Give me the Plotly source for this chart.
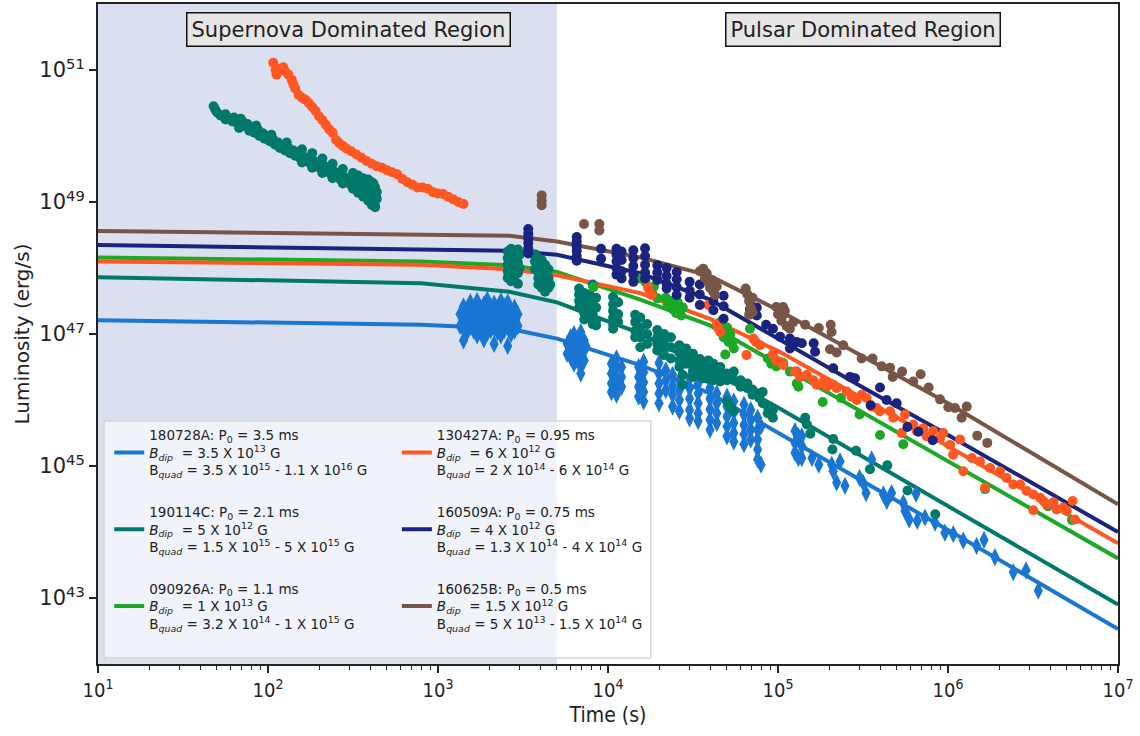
import numpy as np
import plotly.graph_objects as go

# ---------------- model curves (log10 t [s], log10 L [erg/s]) ----------------
model_logt = [1.0, 2.9, 3.42, 3.7, 4.19, 4.6, 5.01, 5.5, 6.0, 7.0]
model_logL_180728A = [47.21, 47.14, 47.08, 46.93, 46.53, 46.10, 45.49, 44.77, 44.03, 42.53]
model_logL_190114C = [47.86, 47.77, 47.64, 47.48, 47.01, 46.45, 45.87, 45.14, 44.40, 42.90]
model_logL_090926A = [48.16, 48.10, 48.04, 47.94, 47.52, 47.13, 46.53, 45.81, 45.08, 43.60]
model_logL_130427A = [48.10, 48.05, 47.98, 47.89, 47.62, 47.23, 46.73, 46.02, 45.30, 43.83]
model_logL_160509A = [48.35, 48.29, 48.26, 48.20, 47.92, 47.52, 46.91, 46.19, 45.47, 44.00]
model_logL_160625B = [48.56, 48.50, 48.49, 48.40, 48.16, 47.88, 47.35, 46.66, 45.95, 44.42]

# ---------------- observed data: rows of [log10 t, log10 L, log10 L, ...] ----------------
obs_180728A = [
    [3.13, 47.30, 47.12], [3.15, 47.42, 47.25, 47.08, 46.90], [3.17, 47.35, 47.18, 47.02],
    [3.19, 47.48, 47.30, 47.12], [3.21, 47.40, 47.22, 47.05], [3.23, 47.50, 47.32, 47.15, 46.98],
    [3.25, 47.38, 47.20, 47.04], [3.27, 47.45, 47.28, 47.10, 46.92], [3.29, 47.52, 47.35, 47.18, 47.02],
    [3.31, 47.40, 47.22, 47.06], [3.33, 47.46, 47.28, 47.10, 46.85], [3.35, 47.38, 47.20, 47.03],
    [3.37, 47.50, 47.32, 47.14, 46.98], [3.39, 47.42, 47.24, 47.06], [3.41, 47.48, 47.30, 47.12, 46.82],
    [3.43, 47.36, 47.18, 47.00], [3.45, 47.40, 47.22, 47.05], [3.47, 47.30, 47.12],
    [3.76, 46.85, 46.70], [3.78, 46.95, 46.80, 46.65], [3.80, 47.00, 46.85, 46.70, 46.55],
    [3.82, 46.92, 46.78, 46.62], [3.84, 47.03, 46.88, 46.72, 46.50, 46.40], [3.86, 46.90, 46.75, 46.60],
    [3.87, 46.82],
    [4.02, 46.55, 46.40, 46.25, 46.12], [4.05, 46.63, 46.48, 46.32, 46.18, 46.08], [4.08, 46.50, 46.35, 46.20],
    [4.18, 46.50, 46.35, 46.20, 46.05], [4.21, 46.58, 46.42, 46.27, 46.12, 45.98],
    [4.30, 46.56, 46.40, 46.25, 46.10, 45.95], [4.34, 46.45, 46.30, 46.15],
    [4.38, 46.38, 46.22, 46.08, 45.90], [4.42, 46.30, 46.15, 46.00, 45.83],
    [4.48, 46.33, 46.18, 46.02, 45.85, 45.72], [4.53, 46.25, 46.10, 45.95, 45.80, 45.68],
    [4.60, 46.18, 46.02, 45.86, 45.70, 45.55], [4.64, 46.10, 45.95, 45.80, 45.65],
    [4.70, 46.05, 45.90, 45.75, 45.60, 45.45], [4.74, 45.98, 45.82, 45.65, 45.50, 45.37],
    [4.80, 45.93, 45.78, 45.62, 45.48, 45.33], [4.84, 45.85, 45.70, 45.55, 45.40],
    [4.88, 45.73, 45.55, 45.40, 45.25, 45.10], [4.90, 45.60, 45.02],
    [5.10, 45.53, 45.35, 45.20], [5.12, 45.45, 45.12], [5.14, 45.45, 45.30, 45.12],
    [5.20, 45.12], [5.24, 45.02], [5.316, 45.02], [5.325, 44.92], [5.345, 44.75], [5.365, 45.07],
    [5.394, 44.70], [5.48, 44.82], [5.50, 44.75], [5.518, 44.59], [5.551, 45.10], [5.62, 44.57],
    [5.64, 44.47], [5.668, 44.59], [5.737, 44.44], [5.747, 44.32], [5.772, 44.19], [5.812, 44.58],
    [5.819, 44.17], [5.865, 44.22], [5.924, 44.14], [5.982, 43.99], [6.031, 43.97], [6.09, 43.87],
    [6.168, 43.79], [6.212, 43.88], [6.276, 43.62], [6.384, 43.39], [6.459, 43.42], [6.531, 43.11],
]

obs_190114C = [
    [1.68, 50.45], [1.69, 50.40], [1.70, 50.36], [1.72, 50.31], [1.74, 50.30], [1.75, 50.25, 50.33],
    [1.77, 50.27], [1.79, 50.22], [1.80, 50.28], [1.82, 50.20], [1.83, 50.12], [1.84, 50.26],
    [1.85, 50.22], [1.86, 50.15], [1.88, 50.18], [1.89, 50.08], [1.90, 50.12], [1.92, 50.05],
    [1.93, 50.16], [1.94, 50.10], [1.95, 50.00], [1.97, 50.04], [1.98, 49.96], [2.00, 50.00],
    [2.01, 49.92], [2.02, 50.02], [2.03, 49.95], [2.04, 49.87], [2.06, 49.90], [2.07, 49.82],
    [2.09, 49.86], [2.10, 49.78], [2.11, 49.90], [2.12, 49.82], [2.13, 49.74], [2.15, 49.78],
    [2.16, 49.70], [2.18, 49.73], [2.19, 49.66], [2.20, 49.80, 49.60], [2.21, 49.69],
    [2.22, 49.62], [2.24, 49.66], [2.25, 49.58], [2.26, 49.74, 49.52], [2.27, 49.62], [2.28, 49.54],
    [2.30, 49.57], [2.31, 49.50], [2.32, 49.66, 49.44], [2.33, 49.55], [2.34, 49.47], [2.36, 49.50],
    [2.37, 49.42], [2.38, 49.58, 49.36], [2.39, 49.46], [2.40, 49.38], [2.42, 49.42], [2.43, 49.33],
    [2.44, 49.50, 49.28], [2.45, 49.38], [2.46, 49.30], [2.48, 49.33], [2.49, 49.25],
    [2.50, 49.44, 49.20], [2.51, 49.30], [2.52, 49.22], [2.53, 49.40, 49.14], [2.54, 49.26],
    [2.55, 49.17], [2.56, 49.36, 49.08], [2.57, 49.22], [2.58, 49.12], [2.59, 49.25, 49.34, 49.02],
    [2.60, 49.05, 49.30], [2.61, 49.18, 49.30, 48.96], [2.62, 48.98, 49.28], [2.63, 49.10, 48.94, 49.22, 48.92],
    [2.64, 49.05, 49.15],
    [3.41, 48.25, 48.15, 48.05, 47.95, 47.85], [3.43, 48.29, 48.20, 48.10, 48.00, 47.90, 47.80],
    [3.45, 48.22, 48.12, 47.98, 47.88], [3.47, 48.28, 48.18, 48.08, 47.92, 47.76], [3.48, 48.20, 48.00],
    [3.57, 48.21, 48.10, 47.98], [3.59, 48.15, 48.05, 47.95, 47.85, 47.75],
    [3.61, 48.12, 48.02, 47.92, 47.82, 47.70], [3.63, 48.05, 47.95, 47.85, 47.72, 47.64],
    [3.65, 47.98, 47.85, 47.70], [3.66, 47.75],
    [3.83, 47.69, 47.60, 47.50, 47.40], [3.86, 47.62, 47.52, 47.42, 47.32, 47.22],
    [3.89, 47.60, 47.45, 47.35, 47.25], [3.91, 47.75, 47.50, 47.30, 47.15], [3.93, 47.55, 47.40, 47.20, 47.13],
    [4.03, 47.56, 47.45, 47.35, 47.25, 47.15, 47.08], [4.06, 47.48, 47.30, 47.18],
    [4.16, 47.29, 47.18, 47.05, 46.95], [4.19, 47.25, 47.10, 46.95, 46.80], [4.23, 47.15, 47.00, 46.85],
    [4.29, 47.06, 46.95, 46.85, 46.75], [4.33, 47.00, 46.90, 46.78, 46.68], [4.37, 46.95, 46.80, 46.63],
    [4.42, 46.83, 46.72, 46.60, 46.50], [4.44, 46.38, 46.23], [4.46, 46.78, 46.65, 46.55],
    [4.50, 46.70, 46.58, 46.45, 46.35], [4.54, 46.62, 46.50, 46.40], [4.56, 46.55, 46.42, 46.33],
    [4.59, 46.60, 46.45, 46.32], [4.62, 46.55, 46.42, 46.30], [4.66, 46.50, 46.38, 46.28],
    [4.70, 46.40, 46.30, 45.98], [4.72, 45.90], [4.74, 46.43, 46.30, 45.83], [4.78, 46.30, 46.20],
    [4.82, 46.25, 46.18], [4.85, 46.16, 46.08], [4.89, 46.10, 46.03], [4.91, 46.12, 45.95],
    [4.94, 45.90, 45.80], [4.97, 45.85, 45.73],
    [5.16, 45.73], [5.17, 45.63], [5.19, 45.49], [5.32, 45.25], [5.325, 45.41], [5.459, 45.23],
    [5.541, 44.95], [5.643, 45.01], [5.762, 44.63], [5.925, 44.27],
]

obs_090926A = [
    [3.914, 47.71], [4.188, 47.84], [4.22, 47.79], [4.24, 47.70], [4.26, 47.62], [4.27, 47.72],
    [4.29, 47.54], [4.34, 47.55], [4.35, 47.45], [4.37, 47.50], [4.38, 47.38], [4.39, 47.42],
    [4.40, 47.32], [4.41, 47.48], [4.42, 47.36], [4.43, 47.28], [4.44, 47.40],
    [4.66, 47.18], [4.67, 47.05], [4.68, 46.95], [4.69, 46.69], [4.70, 47.10], [4.71, 46.88],
    [4.72, 47.00], [4.73, 46.85], [4.74, 46.78], [4.835, 47.08], [4.94, 46.63], [4.96, 46.55],
    [4.99, 46.51], [5.03, 46.56], [5.07, 46.43], [5.11, 46.25], [5.12, 46.20], [5.263, 45.97],
    [5.37, 46.03], [5.48, 45.78], [5.60, 45.47], [5.737, 45.33], [6.218, 44.65], [6.588, 44.39],
    [6.729, 44.18],
]

obs_130427A = [
    [2.031, 51.11], [2.045, 51.00], [2.05, 50.93], [2.07, 51.02], [2.09, 51.04], [2.10, 50.98],
    [2.12, 50.93], [2.14, 50.85], [2.15, 50.78], [2.16, 50.72], [2.18, 50.62], [2.20, 50.58],
    [2.22, 50.55], [2.24, 50.50], [2.26, 50.44], [2.28, 50.38], [2.30, 50.30], [2.32, 50.24],
    [2.34, 50.17], [2.36, 50.10], [2.38, 50.05], [2.40, 49.94], [2.42, 49.89], [2.44, 49.85],
    [2.46, 49.81], [2.49, 49.77], [2.52, 49.72], [2.55, 49.67], [2.58, 49.62], [2.61, 49.58],
    [2.64, 49.54], [2.67, 49.52], [2.70, 49.48], [2.73, 49.45], [2.76, 49.42], [2.79, 49.35],
    [2.82, 49.30], [2.85, 49.26], [2.88, 49.22], [2.91, 49.22], [2.94, 49.20], [2.97, 49.15],
    [3.00, 49.13], [3.03, 49.12], [3.06, 49.08], [3.09, 49.04], [3.12, 49.00], [3.15, 48.97],
    [4.235, 47.71], [4.245, 47.64], [4.257, 47.59], [4.59, 47.44], [4.64, 47.14], [4.65, 47.08],
    [4.66, 47.03], [4.815, 46.68], [4.855, 46.93], [4.87, 46.88], [4.894, 46.83], [4.97, 46.69],
    [4.99, 46.60], [5.012, 46.58], [5.031, 46.53], [5.10, 46.43], [5.11, 46.43], [5.129, 46.35],
    [5.169, 46.38], [5.208, 46.30], [5.227, 46.23], [5.267, 46.28], [5.286, 46.20], [5.325, 46.23],
    [5.345, 46.18], [5.404, 46.13], [5.433, 46.05], [5.463, 46.00], [5.492, 46.08], [5.522, 46.03],
    [5.551, 45.90], [5.580, 45.88], [5.60, 45.83], [5.659, 45.83], [5.678, 45.73], [5.727, 45.50],
    [5.747, 45.78], [5.796, 45.63], [5.815, 45.53], [5.855, 45.57], [5.874, 45.45], [5.913, 45.53],
    [5.953, 45.42], [5.972, 45.50], [6.012, 45.32], [6.03, 45.17], [6.071, 45.40], [6.09, 44.92],
    [6.14, 45.12], [6.188, 45.07], [6.218, 44.67], [6.247, 44.97], [6.306, 44.92], [6.345, 44.82],
    [6.384, 44.72], [6.424, 44.72], [6.463, 44.62], [6.502, 44.57, 44.33], [6.541, 44.52],
    [6.561, 44.47], [6.58, 44.42], [6.62, 44.45], [6.639, 44.34], [6.678, 44.37], [6.698, 44.32],
    [6.733, 44.47], [6.747, 44.19],
]

obs_160509A = [
    [3.531, 48.59, 48.52, 48.45, 48.38, 48.30, 48.22], [3.816, 48.47, 48.40, 48.33, 48.26, 48.18, 48.11],
    [3.959, 48.29, 48.14], [4.05, 48.29, 48.20, 48.10, 48.00, 47.90], [4.08, 48.25, 48.12, 47.95, 47.84],
    [4.149, 48.27, 48.15, 48.03, 47.90, 47.79], [4.218, 48.30, 48.18, 48.05, 47.93, 47.84],
    [4.29, 48.04, 47.93, 47.82], [4.345, 48.00, 47.88, 47.76, 47.69], [4.404, 47.94, 47.83, 47.71, 47.59],
    [4.48, 47.79, 47.66, 47.55], [4.54, 47.75, 47.60, 47.44], [4.62, 47.64, 47.50, 47.36],
    [4.68, 47.58, 47.42, 47.23], [4.835, 47.49, 47.38], [4.875, 47.40, 47.28], [4.93, 47.14],
    [4.97, 47.08], [5.012, 46.96], [5.07, 46.93, 46.78], [5.09, 46.85], [5.11, 46.88], [5.14, 46.86],
    [5.21, 46.86], [5.218, 46.73], [5.325, 46.48], [5.424, 46.35], [5.453, 46.33], [5.545, 45.92],
    [5.60, 46.19], [5.639, 46.00], [5.698, 45.95], [5.761, 45.59], [5.826, 45.52], [5.91, 45.39],
]

obs_160625B = [
    [3.61, 49.10, 49.02, 48.95], [3.859, 48.667], [3.949, 48.667, 48.567],
    [4.54, 47.95], [4.56, 47.99], [4.57, 47.85], [4.58, 47.92], [4.59, 47.78], [4.60, 47.70],
    [4.61, 47.82], [4.62, 47.65], [4.63, 47.59], [4.64, 47.72],
    [4.81, 47.69], [4.82, 47.60], [4.83, 47.50, 47.29], [4.84, 47.40], [4.85, 47.33, 47.55],
    [4.99, 47.41], [5.00, 47.30], [5.02, 47.20], [5.03, 47.41, 47.29], [5.04, 47.35], [5.05, 47.12],
    [5.07, 47.08], [5.09, 47.18], [5.16, 47.14], [5.24, 47.09], [5.31, 47.14], [5.315, 47.03],
    [5.306, 46.77], [5.345, 46.72], [5.384, 46.83], [5.492, 46.63], [5.556, 46.63], [5.61, 46.51],
    [5.659, 46.49], [5.675, 46.35], [5.73, 46.43], [5.796, 46.28], [5.839, 46.39], [5.886, 46.19],
    [5.953, 46.01], [6.002, 45.89], [6.041, 45.88], [6.08, 45.73], [6.11, 45.90], [6.172, 45.46],
    [6.231, 45.35],
]

# ---------------- labels / styles ----------------
names = ["180728A", "190114C", "090926A", "130427A", "160509A", "160625B"]
colors = ["#1976D2", "#00796B", "#1DA827", "#FF5722", "#1A237E", "#795548"]
legend_labels = [
    "180728A: P<sub>0</sub> = 3.5 ms<br><i>B<sub>dip</sub></i>\u00a0 = 3.5 X 10<sup>13</sup> G<br>B<sub><i>quad</i></sub> = 3.5 X 10<sup>15</sup> - 1.1 X 10<sup>16</sup> G",
    "190114C: P<sub>0</sub> = 2.1 ms<br><i>B<sub>dip</sub></i>\u00a0 = 5 X 10<sup>12</sup> G<br>B<sub><i>quad</i></sub> = 1.5 X 10<sup>15</sup> - 5 X 10<sup>15</sup> G",
    "090926A: P<sub>0</sub> = 1.1 ms<br><i>B<sub>dip</sub></i>\u00a0 = 1 X 10<sup>13</sup> G<br>B<sub><i>quad</i></sub> = 3.2 X 10<sup>14</sup> - 1 X 10<sup>15</sup> G",
    "130427A: P<sub>0</sub> = 0.95 ms<br><i>B<sub>dip</sub></i>\u00a0 = 6 X 10<sup>12</sup> G<br>B<sub><i>quad</i></sub> = 2 X 10<sup>14</sup> - 6 X 10<sup>14</sup> G",
    "160509A: P<sub>0</sub> = 0.75 ms<br><i>B<sub>dip</sub></i>\u00a0 = 4 X 10<sup>12</sup> G<br>B<sub><i>quad</i></sub> = 1.3 X 10<sup>14</sup> - 4 X 10<sup>14</sup> G",
    "160625B: P<sub>0</sub> = 0.5 ms<br><i>B<sub>dip</sub></i>\u00a0 = 1.5 X 10<sup>12</sup> G<br>B<sub><i>quad</i></sub> = 5 X 10<sup>13</sup> - 1.5 X 10<sup>14</sup> G",
]
models = [model_logL_180728A, model_logL_190114C, model_logL_090926A,
          model_logL_130427A, model_logL_160509A, model_logL_160625B]
observations = [obs_180728A, obs_190114C, obs_090926A, obs_130427A, obs_160509A, obs_160625B]
symbols = ["diamond-tall", "circle", "circle", "circle", "circle", "circle"]
legends = ["legend", "legend", "legend", "legend2", "legend2", "legend2"]

x_tick_exp = [1, 2, 3, 4, 5, 6, 7]
y_tick_exp = [43, 45, 47, 49, 51]
sn_region_end = 5000.0

fig = go.Figure()

# model curves
for name, col, mod, lab, lg in zip(names, colors, models, legend_labels, legends):
    fig.add_trace(go.Scatter(
        x=10.0 ** np.array(model_logt), y=10.0 ** np.array(mod), mode="lines",
        line=dict(color=col, width=4), name=lab, legend=lg, legendgroup=name,
        hoverinfo="skip"))

# observed data
for name, col, obs, sym in zip(names, colors, observations, symbols):
    xs, ys = [], []
    for row in obs:
        for v in row[1:]:
            xs.append(10.0 ** row[0])
            ys.append(10.0 ** v)
    fig.add_trace(go.Scatter(
        x=xs, y=ys, mode="markers", showlegend=False, name=name,
        marker=dict(color=col, symbol=sym, size=13 if sym != "circle" else 10, line=dict(width=0))))

# supernova-dominated shading
fig.add_shape(type="rect", xref="x", yref="paper", x0=10.0, x1=sn_region_end, y0=0, y1=1,
              fillcolor="#dae0ef", line_width=0, layer="below")
# legend frame
fig.add_shape(type="rect", xref="paper", yref="paper", x0=0.006, x1=0.542, y0=0.009, y1=0.368,
              fillcolor="rgba(255,255,255,0.6)", line=dict(color="#d6d6d6", width=1.5), layer="above")

for txt, xc in [("Supernova Dominated Region", 0.246), ("Pulsar Dominated Region", 0.7497)]:
    fig.add_annotation(x=xc, y=0.962, xref="paper", yref="paper", xanchor="center", yanchor="middle",
                       text=txt, showarrow=False, font=dict(size=21, color="#222"), bgcolor="#e6e6e6",
                       bordercolor="#111", borderwidth=1.5, borderpad=4)

minor_x = [float(k) * 10.0 ** n for n in range(1, 7) for k in range(2, 10)]

fig.update_layout(
    width=1140, height=736,
    margin=dict(l=98, r=22, t=2, b=72),
    paper_bgcolor="white", plot_bgcolor="white",
    font=dict(family="DejaVu Sans", color="#222"),
    xaxis=dict(
        type="log", range=[1, 7], tickmode="array",
        tickvals=[10.0 ** e for e in x_tick_exp],
        ticktext=["10<sup>%d</sup>" % e for e in x_tick_exp],
        tickfont=dict(size=20, family="DejaVu Sans Condensed, DejaVu Sans"),
        ticks="outside", ticklen=7, tickwidth=1.5, tickcolor="#222",
        minor=dict(ticks="outside", ticklen=4, tickwidth=1, tickcolor="#222", tickvals=minor_x, showgrid=False),
        showline=True, linecolor="#222", linewidth=2, mirror=True,
        showgrid=False, zeroline=False,
        title=dict(text="Time (s)", font=dict(size=21, family="DejaVu Sans Condensed, DejaVu Sans"), standoff=6),
    ),
    yaxis=dict(
        type="log", range=[42, 52], tickmode="array",
        tickvals=[10.0 ** e for e in y_tick_exp],
        ticktext=["10<sup>%d</sup>" % e for e in y_tick_exp],
        tickfont=dict(size=21),
        ticks="outside", ticklen=7, tickwidth=1.5, tickcolor="#222",
        showline=True, linecolor="#222", linewidth=2, mirror=True,
        showgrid=False, zeroline=False,
        title=dict(text="Luminosity (erg/s)", font=dict(size=20), standoff=4),
    ),
    legend=dict(x=0.011, y=0.37, xanchor="left", yanchor="top", bgcolor="rgba(0,0,0,0)",
                font=dict(size=13.5), tracegroupgap=21, traceorder="grouped"),
    legend2=dict(x=0.293, y=0.37, xanchor="left", yanchor="top", bgcolor="rgba(0,0,0,0)",
                 font=dict(size=13.5), tracegroupgap=21, traceorder="grouped"),
)

fig.write_html("out.html", config={"displayModeBar": False},
               post_script="document.body.style.margin='0';document.body.style.padding='0';")
